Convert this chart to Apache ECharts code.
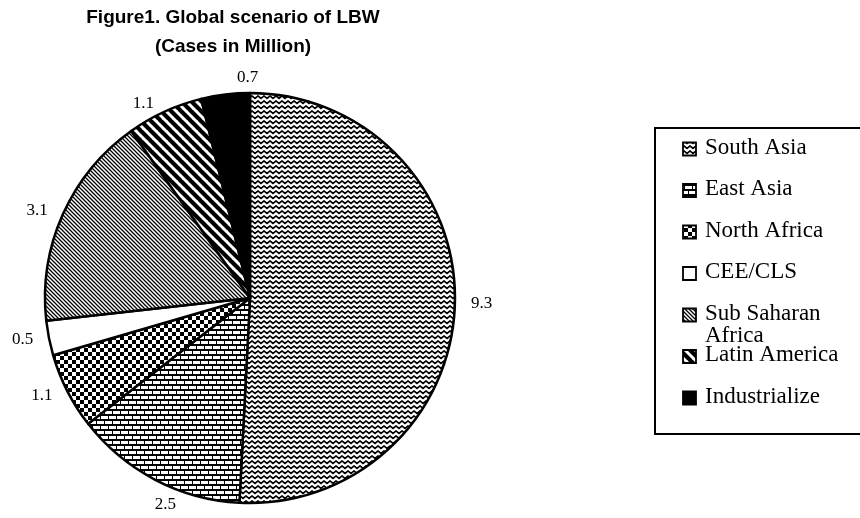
<!DOCTYPE html>
<html>
<head>
<meta charset="utf-8">
<script src="https://cdn.jsdelivr.net/npm/echarts@6/dist/echarts.min.js"></script>
<style>
  html, body { margin: 0; padding: 0; background: #fff; }
  #chart { width: 860px; height: 518px; }
</style>
</head>
<body>
<div id="chart"></div>
<script>
// Low birth weight cases by region (millions)
var regions = ['South Asia', 'East Asia', 'North Africa', 'CEE/CLS', 'Sub Saharan Africa', 'Latin America', 'Industrialize'];
var legendLabels = ['South Asia', 'East Asia', 'North Africa', 'CEE/CLS', 'Sub Saharan\nAfrica', 'Latin America', 'Industrialize'];
var cases = [9.3, 2.5, 1.1, 0.5, 3.1, 1.1, 0.7];
var fillKinds = ['zigzag', 'brick', 'checker', 'blank', 'fineDiag', 'wideDiag', 'solid'];

// Monochrome hatch fills, each built as a small repeating canvas tile
function makeTile(kind) {
  var c = document.createElement('canvas');
  var ctx;
  if (kind === 'zigzag') {
    c.width = 6; c.height = 5;
    ctx = c.getContext('2d');
    ctx.fillStyle = '#fff'; ctx.fillRect(0, 0, 6, 5);
    ctx.strokeStyle = '#000'; ctx.lineWidth = 1.7;
    ctx.beginPath();
    ctx.moveTo(-3, 3.5); ctx.lineTo(0, 1); ctx.lineTo(3, 3.5); ctx.lineTo(6, 1); ctx.lineTo(9, 3.5);
    ctx.stroke();
  } else if (kind === 'brick') {
    c.width = 8; c.height = 10;
    ctx = c.getContext('2d');
    ctx.fillStyle = '#000'; ctx.fillRect(0, 0, 8, 10);
    ctx.fillStyle = '#fff';
    ctx.fillRect(1, 1, 7, 3);
    ctx.fillRect(0, 6, 4, 3);
    ctx.fillRect(5, 6, 3, 3);
  } else if (kind === 'checker') {
    c.width = 8; c.height = 8;
    ctx = c.getContext('2d');
    ctx.fillStyle = '#fff'; ctx.fillRect(0, 0, 8, 8);
    ctx.fillStyle = '#000';
    ctx.fillRect(0, 0, 4, 4); ctx.fillRect(4, 4, 4, 4);
  } else if (kind === 'fineDiag' || kind === 'wideDiag') {
    var s = kind === 'fineDiag' ? 4 : 10;
    c.width = s; c.height = s;
    ctx = c.getContext('2d');
    ctx.fillStyle = '#fff'; ctx.fillRect(0, 0, s, s);
    ctx.strokeStyle = '#000';
    ctx.lineWidth = kind === 'fineDiag' ? 1.3 : 4.2;
    ctx.beginPath();
    for (var k = -1; k <= 1; k++) {
      ctx.moveTo(k * s - 1, -1); ctx.lineTo(k * s + s + 1, s + 1);
    }
    ctx.stroke();
  } else {
    c.width = 4; c.height = 4;
    ctx = c.getContext('2d');
    ctx.fillStyle = kind === 'solid' ? '#000' : '#fff';
    ctx.fillRect(0, 0, 4, 4);
  }
  return { image: c, repeat: 'repeat' };
}

var fills = fillKinds.map(makeTile);

var pieData = regions.map(function (name, i) {
  return { name: name, value: cases[i], itemStyle: { color: fills[i] } };
});

// Legend drawn as a boxed list on the right
var legendItems = [{
  type: 'rect',
  shape: { x: 655, y: 128, width: 240, height: 306 },
  style: { fill: '#fff', stroke: '#000', lineWidth: 2 },
  z: 1
}];
legendLabels.forEach(function (label, i) {
  var cy = 149 + i * 41.5;
  legendItems.push({
    type: 'rect',
    shape: { x: 683, y: cy - 6.5, width: 13, height: 13 },
    style: { fill: fills[i], stroke: '#000', lineWidth: 1.8 },
    z: 2
  });
  legendItems.push({
    type: 'text',
    x: 705, y: cy - 12.5,
    style: {
      text: label,
      fill: '#000',
      font: '23px "Liberation Serif", "Times New Roman", serif',
      lineHeight: 22,
      textVerticalAlign: 'top'
    },
    z: 3
  });
});

// Nudges for the two labels that sit off their slice's mid-angle
var labelNudge = { 1: [32, 17], 6: [41, -8] };

var chart = echarts.init(document.getElementById('chart'), null, { renderer: 'canvas' });
chart.setOption({
  backgroundColor: '#fff',
  animation: false,
  title: {
    text: 'Figure1. Global scenario of LBW\n(Cases in Million)',
    left: 228,
    top: -2,
    textAlign: 'center',
    textStyle: {
      fontFamily: '"Liberation Sans", Arial, sans-serif',
      fontWeight: 'bold',
      fontSize: 19,
      lineHeight: 29,
      color: '#000'
    }
  },
  graphic: legendItems,
  series: [{
    type: 'pie',
    center: [250, 298],
    radius: 205,
    startAngle: 90,
    clockwise: true,
    avoidLabelOverlap: false,
    data: pieData,
    itemStyle: { borderColor: '#000', borderWidth: 2.5 },
    emphasis: { disabled: true },
    label: {
      show: true,
      position: 'outside',
      formatter: '{c}',
      color: '#000',
      fontFamily: '"Liberation Serif", "Times New Roman", serif',
      fontSize: 17
    },
    labelLine: { show: false, length: 9, length2: 2 },
    labelLayout: function (params) {
      var n = labelNudge[params.dataIndex];
      return n ? { dx: n[0], dy: n[1] } : {};
    }
  }]
});
</script>
</body>
</html>
